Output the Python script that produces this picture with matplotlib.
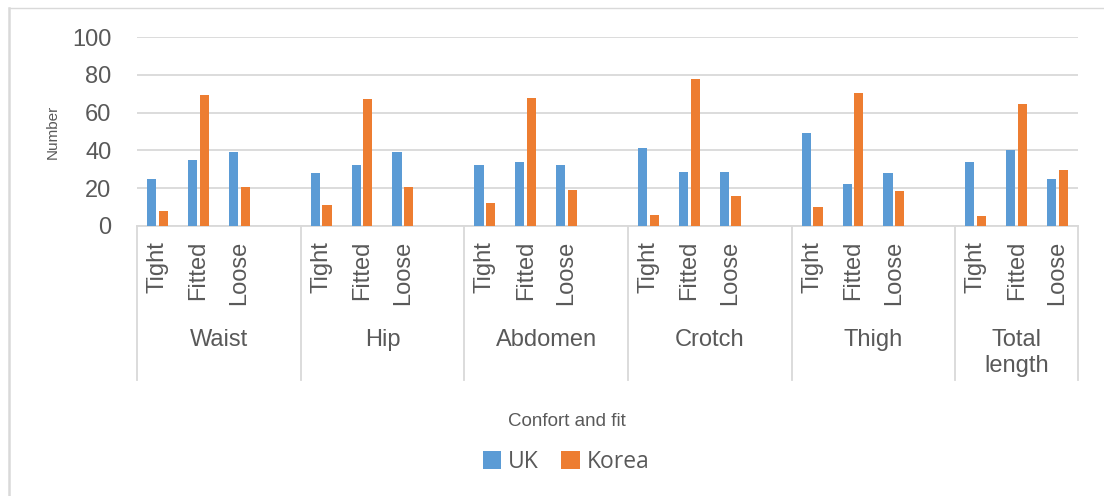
import matplotlib
matplotlib.use("Agg")
import matplotlib.pyplot as plt
from matplotlib.lines import Line2D
from matplotlib.patches import Patch
import numpy as np

# --- data -------------------------------------------------------------
groups = ["Waist", "Hip", "Abdomen", "Crotch", "Thigh", "Total\nlength"]
fits = ["Tight", "Fitted", "Loose"]
uk = [25, 35, 39,
      28, 32, 39,
      32, 34, 32,
      41, 28.5, 28.5,
      49, 22, 28,
      34, 40, 25]
korea = [8, 69.5, 20.5,
         11, 67.5, 20.5,
         12, 68, 19,
         5.5, 78, 15.5,
         10, 70.5, 18.5,
         5, 64.5, 29.5]
y_ticks = [0, 20, 40, 60, 80, 100]
series_names = ["UK", "Korea"]

# --- style ------------------------------------------------------------
BLUE = "#5B9BD5"
ORANGE = "#ED7D31"
GRID = "#D9D9D9"
TEXT = "#595959"
FONT = ["Liberation Sans", "DejaVu Sans"]
plt.rcParams["font.family"] = FONT

W, H = 1104, 496
fig = plt.figure(figsize=(W / 100, H / 100), dpi=100)

# plot area in pixel coordinates
x0, x1 = 137, 1078
y_top, y_base = 37.3, 225.7
ax = fig.add_axes([x0 / W, 1 - y_base / H, (x1 - x0) / W, (y_base - y_top) / H])
ax_h = y_base - y_top

# category slots: three per group with an empty slot between groups
n_groups = len(groups)
slot = []
for g in range(n_groups):
    for j in range(len(fits)):
        slot.append(g * 4 + j)
slot = np.array(slot, dtype=float)
n_slots = (n_groups - 1) * 4 + len(fits)

bw = 0.225
off = 0.143
ax.bar(slot - off, uk, width=bw, color=BLUE, zorder=3)
ax.bar(slot + off, korea, width=bw, color=ORANGE, zorder=3)

ax.set_xlim(-0.5, n_slots - 0.5)
ax.set_ylim(0, 100)
ax.set_yticks(y_ticks)
ax.yaxis.grid(True, color=GRID, linewidth=1.3, zorder=0)
ax.set_axisbelow(True)
for s in ["top", "right", "left"]:
    ax.spines[s].set_visible(False)
ax.spines["bottom"].set_color(GRID)
ax.spines["bottom"].set_linewidth(1.3)

ax.tick_params(axis="y", length=0, pad=18.5, labelsize=17, labelcolor=TEXT)
ax.set_xticks(slot)
ax.set_xticklabels(fits * n_groups, rotation=90, va="top", ha="center")
ax.tick_params(axis="x", length=0, pad=11, labelsize=17, labelcolor=TEXT)

ax.set_ylabel("Number", fontsize=11, color=TEXT)
ax.yaxis.set_label_coords(-77 / (x1 - x0), 0.5)

# group labels and separators below the axis
trans = ax.get_xaxis_transform()
sep_bottom = (y_base - 380) / ax_h
bounds = [-0.5] + [g * 4 + 3.5 for g in range(n_groups - 1)] + [n_slots - 0.5]
for b in bounds:
    ax.add_line(Line2D([b, b], [0, sep_bottom], transform=trans, color=GRID,
                       linewidth=1.3, clip_on=False))
for g, name in enumerate(groups):
    left = bounds[g]
    right = bounds[g + 1]
    ax.text((left + right) / 2, (y_base - 328.5) / ax_h, name, transform=trans,
            ha="center", va="top", fontsize=17, color=TEXT, linespacing=1.25)

# axis title
fig.text(566.5 / W, 1 - 421.5 / H, "Confort and fit", ha="center", va="center",
         fontsize=13.5, color=TEXT)

# legend
handles = [Patch(facecolor=BLUE, edgecolor="none"), Patch(facecolor=ORANGE, edgecolor="none")]
fig.legend(handles, series_names, loc="center", bbox_to_anchor=(566 / W, 1 - 462 / H),
           ncol=2, frameon=False, handlelength=0.8, handleheight=0.8,
           handletextpad=0.3, columnspacing=1.0,
           prop={"family": ["Open Sans", "DejaVu Sans"], "size": 16.5},
           labelcolor=TEXT)

# chart border (top and left edges)
fig.add_artist(Line2D([9 / W, 1], [1 - 8 / H, 1 - 8 / H], transform=fig.transFigure,
                      color=GRID, linewidth=1.0))
fig.add_artist(Line2D([9 / W, 9 / W], [0, 1 - 8 / H], transform=fig.transFigure,
                      color=GRID, linewidth=1.8))

fig.savefig("out.png", dpi=100, facecolor="white")
